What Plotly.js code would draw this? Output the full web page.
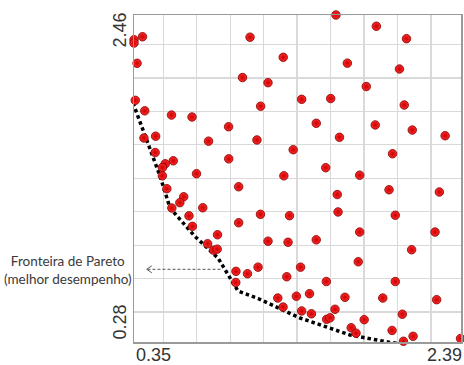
<!DOCTYPE html>
<html>
<head>
<meta charset="utf-8">
<script src="https://cdn.plot.ly/plotly-3.0.1.min.js"></script>
<style>html,body{margin:0;padding:0;background:#fff;}#chart{width:464px;height:365px;}</style>
</head>
<body>
<div id="chart"></div>
<script>
// Solutions (x = objective 1, y = objective 2)
const solX = [0.350,0.350,0.403,0.369,0.358,0.417,0.584,0.712,0.940,1.027,
  0.412,0.485,0.815,0.482,0.941,0.595,0.545,0.527,0.740,0.527,
  1.610,1.074,1.281,1.681,1.186,1.396,1.577,1.140,1.487,1.117,
  1.632,1.343,1.546,1.285,1.862,2.050,2.006,1.799,2.036,1.855,
  2.086,2.291,1.963,1.758,0.555,0.660,0.636,0.586,0.779,1.003,
  1.003,0.693,0.714,0.871,0.809,0.847,0.869,0.986,0.985,1.618,
  1.139,1.320,1.623,1.186,1.311,1.487,1.058,1.124,1.389,1.303,
  1.550,1.247,1.363,1.445,1.666,1.280,1.396,1.457,1.604,1.552,
  1.573,1.705,1.941,2.255,1.980,1.758,2.228,2.082,1.749,1.980,
  1.902,2.238,2.024,1.786,1.735,1.960,2.091,2.031,2.351,2.387];
const solY = [2.295,2.273,2.315,2.138,1.891,1.821,1.793,1.780,1.715,2.043,
  1.640,1.652,1.619,1.543,1.501,1.488,1.468,1.443,1.402,1.388,
  2.460,2.312,2.178,2.139,2.009,1.898,1.903,1.852,1.738,1.627,
  1.645,1.562,1.442,1.388,2.385,2.302,2.100,1.983,1.860,1.727,
  1.693,1.655,1.535,1.392,1.302,1.248,1.209,1.173,1.175,1.315,
  1.075,1.121,1.051,0.995,0.935,0.892,0.899,0.751,0.677,1.263,
  1.131,1.122,1.147,0.952,0.945,0.961,0.735,0.779,0.779,0.715,
  0.683,0.573,0.585,0.602,0.578,0.513,0.487,0.468,0.498,0.431,
  0.441,0.375,1.295,1.280,1.125,1.013,1.013,0.895,0.815,0.683,
  0.573,0.562,0.465,0.429,0.339,0.357,0.318,0.285,0.275,0.303];

// Pareto front (hand-drawn dotted curve)
const frontX = [0.344,0.512,0.575,0.731,0.874,0.999,1.124,1.386,1.697,1.947,2.084];
const frontY = [1.873,1.387,1.173,0.983,0.840,0.620,0.570,0.440,0.327,0.277,0.260];

// Axis range labels
const xRange = [0.35, 2.39];
const yRange = [0.28, 2.46];
const xTickLabels = ['0.35', '2.39'];
const yTickLabels = ['0.28', '2.46'];
const noteLines = ['Fronteira de Pareto', '(melhor desempenho)'];

const traces = [
  {
    x: frontX, y: frontY, type: 'scatter', mode: 'lines',
    line: {color: '#000000', width: 3.5, dash: '3.5px,3px'},
    cliponaxis: false, hoverinfo: 'skip'
  },
  {
    x: solX, y: solY, type: 'scatter', mode: 'markers',
    marker: {size: 8.5, color: '#ff2a2a', line: {color: '#800000', width: 0.8},
             gradient: {type: 'radial', color: '#c80000'}},
    cliponaxis: false
  }
];

const axisFont = {family: 'Liberation Sans, Arial, sans-serif', size: 18, color: '#333333'};
const noteFont = {family: 'Lato, sans-serif', size: 13.5, color: '#3a3a3a'};

const layout = {
  width: 464, height: 365,
  margin: {l: 134, r: 3, t: 15, b: 23, pad: 0},
  paper_bgcolor: '#ffffff', plot_bgcolor: '#ffffff',
  showlegend: false,
  xaxis: {
    range: xRange, showticklabels: false, ticks: '', zeroline: false,
    showgrid: true, gridcolor: '#d9d9d9', gridwidth: 1.3,
    tick0: 0.5328, dtick: 0.2087,
    showline: true, mirror: true, linecolor: '#9a9a9a', linewidth: 1.5
  },
  yaxis: {
    range: yRange, showticklabels: false, ticks: '', zeroline: false,
    showgrid: true, gridcolor: '#d9d9d9', gridwidth: 1.3,
    tick0: 0.4793, dtick: 0.2231,
    showline: true, mirror: true, linecolor: '#9a9a9a', linewidth: 1.5
  },
  annotations: [
    {xref: 'x', yref: 'paper', x: xRange[0], y: 0, xanchor: 'left', yanchor: 'top',
     yshift: -1, text: xTickLabels[0], showarrow: false, font: axisFont},
    {xref: 'x', yref: 'paper', x: xRange[1], y: 0, xanchor: 'right', yanchor: 'top',
     xshift: 3, yshift: -1, text: xTickLabels[1], showarrow: false, font: axisFont},
    {xref: 'paper', yref: 'y', x: 0, y: yRange[0], xanchor: 'right', yanchor: 'bottom',
     xshift: -3, text: yTickLabels[0], textangle: -90, showarrow: false, font: axisFont},
    {xref: 'paper', yref: 'y', x: 0, y: yRange[1], xanchor: 'right', yanchor: 'top',
     xshift: -3, yshift: 4, text: yTickLabels[1], textangle: -90, showarrow: false, font: axisFont},
    {xref: 'paper', yref: 'paper', x: -0.2018, y: 0.22, xanchor: 'center', yanchor: 'middle',
     text: noteLines.join('<br>'), showarrow: false, font: noteFont}
  ],
  shapes: [
    {type: 'line', xref: 'paper', yref: 'paper', x0: 0.2645, y0: 0.2223, x1: 0.0395, y1: 0.2223,
     line: {color: '#555555', width: 1, dash: '3px,2px'}},
    {type: 'path', xref: 'paper', yref: 'paper',
     path: 'M 0.0545 0.2330 L 0.0388 0.2223 L 0.0545 0.2116',
     line: {color: '#555555', width: 1}}
  ]
};

Plotly.newPlot('chart', traces, layout, {displayModeBar: false, staticPlot: true});
</script>
</body>
</html>
